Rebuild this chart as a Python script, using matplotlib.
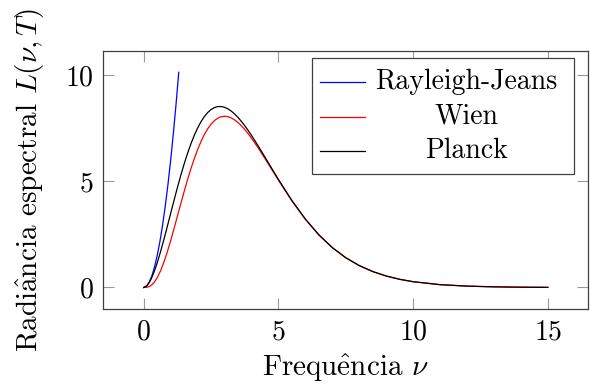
import matplotlib.pyplot as plt
from matplotlib.patches import Rectangle
from matplotlib.lines import Line2D

plt.rcParams["font.family"] = "serif"
plt.rcParams["font.serif"] = ["cmr10", "DejaVu Serif"]
plt.rcParams["mathtext.fontset"] = "cm"
plt.rcParams["axes.formatter.use_mathtext"] = True

# valores
nu = [0, 0.125, 0.25, 0.375, 0.5, 0.625, 0.75, 0.875, 1, 1.125, 1.25, 1.375, 1.5, 1.625,
      1.75, 1.875, 2, 2.125, 2.25, 2.375, 2.5, 2.625, 2.75, 2.875, 3, 3.125, 3.25, 3.375,
      3.5, 3.625, 3.75, 3.875, 4, 4.25, 4.5, 4.75, 5, 5.5, 6, 6.5, 7, 7.5, 8, 8.5, 9, 9.5,
      10, 11, 12, 13, 14, 15]
planck = [0, 0.088, 0.330, 0.695, 1.156, 1.687, 2.266, 2.873, 3.492, 4.107, 4.706, 5.278,
          5.816, 6.313, 6.763, 7.164, 7.513, 7.809, 8.052, 8.243, 8.384, 8.476, 8.522, 8.525,
          8.488, 8.415, 8.308, 8.172, 8.010, 7.825, 7.620, 7.399, 7.164, 6.665, 6.142, 5.612,
          5.088, 4.096, 3.221, 2.481, 1.878, 1.401, 1.031, 0.750, 0.540, 0.385, 0.272, 0.133,
          0.064, 0.030, 0.014, 0.006]
wien = [0, 0.010, 0.073, 0.218, 0.455, 0.784, 1.196, 1.676, 2.207, 2.774, 3.358, 3.944,
        4.518, 5.070, 5.588, 6.065, 6.496, 6.876, 7.203, 7.476, 7.696, 7.862, 7.977, 8.044,
        8.066, 8.045, 7.986, 7.893, 7.768, 7.617, 7.441, 7.246, 7.033, 6.570, 6.074, 5.563,
        5.053, 4.080, 3.213, 2.477, 1.877, 1.400, 1.031, 0.750, 0.540, 0.385, 0.272, 0.133,
        0.064, 0.030, 0.014, 0.006]
nu_rj = [0, 0.1, 0.2, 0.3, 0.4, 0.5, 0.6, 0.7, 0.8, 0.9, 1.0, 1.1, 1.2, 1.3]
rj = [0, 0.06, 0.24, 0.54, 0.96, 1.5, 2.16, 2.94, 3.84, 4.86, 6.0, 7.26, 8.64, 10.14]

labels = ["Rayleigh-Jeans", "Wien", "Planck"]
colors = ["blue", "red", "black"]

fig = plt.figure(figsize=(5.9, 3.88), dpi=100)
ax = fig.add_axes([0.1751, 0.2036, 0.822, 0.6657])

ax.plot(nu_rj, rj, color="blue", lw=0.9)
ax.plot(nu, wien, color="red", lw=0.9)
ax.plot(nu, planck, color="black", lw=0.9)

ax.set_xlim(-1.5, 16.5)
ax.set_ylim(-1.014, 11.154)
ax.set_xticks([0, 5, 10, 15])
ax.set_yticks([0, 5, 10])
ax.tick_params(direction="in", length=8, width=0.8, color="0.6", labelsize=20,
               top=True, right=True, pad=7)
for s in ax.spines.values():
    s.set_color("0.25")
    s.set_linewidth(0.9)

ax.set_xlabel(r"Frequ$\hat{\mathrm{e}}$ncia $\nu$", fontsize=21, labelpad=5)
ax.set_ylabel(r"Radi$\hat{\mathrm{a}}$ncia espectral $L(\nu, T)$", fontsize=21, labelpad=13)

# legenda desenhada à mão (texto centralizado, como no pgfplots)
ax.add_patch(Rectangle((0.4297, 0.5226), 0.5408, 0.448, transform=ax.transAxes,
                       facecolor="white", edgecolor="0.25", lw=0.9, zorder=5))
for y, lab, c in zip([0.880, 0.7445, 0.6105], labels, colors):
    ax.add_line(Line2D([0.4468, 0.5396], [y, y], transform=ax.transAxes,
                       color=c, lw=0.9, zorder=6))
    ax.text(0.748, y, lab, transform=ax.transAxes, ha="center", va="center",
            fontsize=20, zorder=6)

fig.savefig("out.png", dpi=100)
